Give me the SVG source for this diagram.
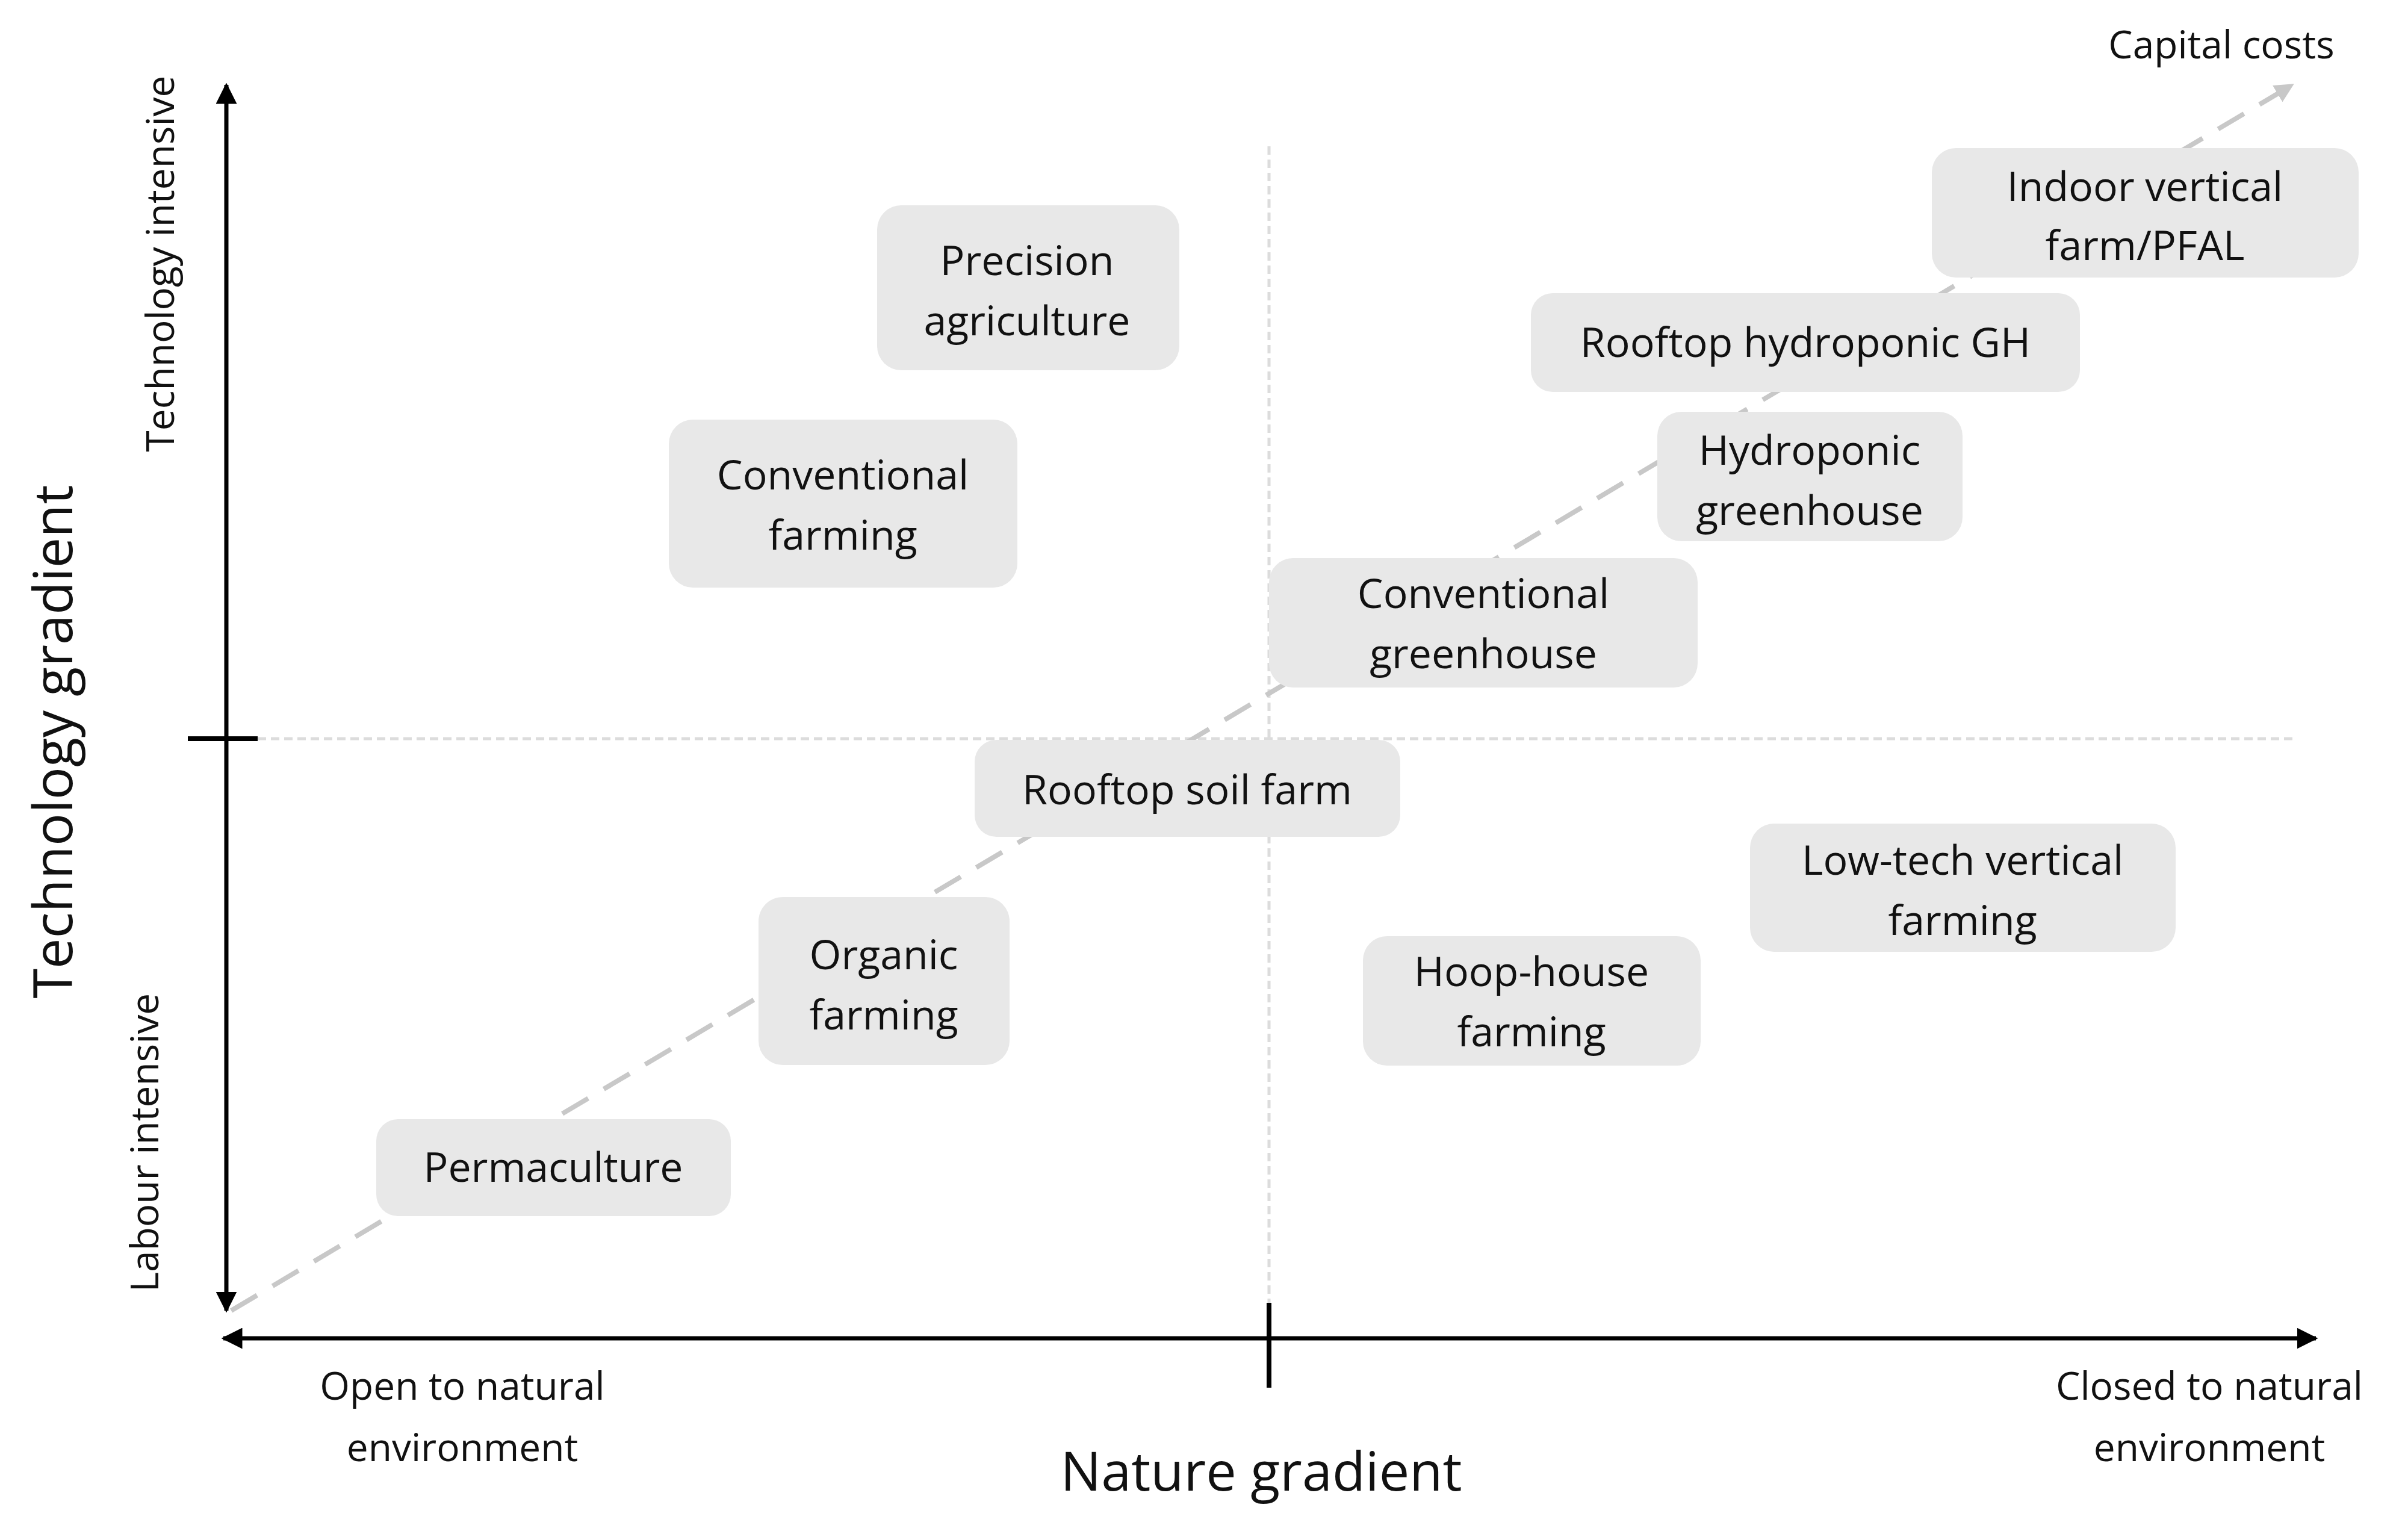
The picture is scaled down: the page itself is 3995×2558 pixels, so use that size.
<svg xmlns="http://www.w3.org/2000/svg" width="3995" height="2558" viewBox="0 0 3995 2558">
<style>
.b{fill:#e8e8e8}
.t{font-family:"Open Sans","Liberation Sans",sans-serif;font-size:68px;fill:#111;text-anchor:middle;dominant-baseline:central}
.a{font-family:"Open Sans","Liberation Sans",sans-serif;font-size:64px;fill:#111;text-anchor:middle;dominant-baseline:central}
.g{font-family:"Open Sans","Liberation Sans",sans-serif;font-size:90px;fill:#111;text-anchor:middle;dominant-baseline:central}
.d{stroke:#dcdcdc;stroke-width:5;stroke-dasharray:14 8;fill:none}
</style>
<defs>
<marker id="ah" viewBox="0 0 10 10" refX="9" refY="5" markerWidth="5" markerHeight="5" orient="auto-start-reverse"><path d="M0,0L10,5L0,10z" fill="#000"/></marker>
<marker id="gh" viewBox="0 0 10 10" refX="9" refY="5" markerWidth="4" markerHeight="4" orient="auto"><path d="M0,0L10,5L0,10z" fill="#c8c8c8"/></marker>
</defs>
<rect width="3995" height="2558" fill="#fff"/>
<g id="connectors">
<line class="d" x1="2108" y1="243" x2="2108" y2="2164"/>
<line class="d" x1="428" y1="1227" x2="3816" y2="1227"/>
<line x1="384" y1="2177" x2="3808" y2="141" stroke="#c8c8c8" stroke-width="8" stroke-dasharray="50 30" marker-end="url(#gh)"/>
<line x1="376" y1="2177" x2="376" y2="141" stroke="#000" stroke-width="7" marker-start="url(#ah)" marker-end="url(#ah)"/>
<line x1="312" y1="1227" x2="428" y2="1227" stroke="#000" stroke-width="8"/>
<line x1="371" y1="2223" x2="3847" y2="2223" stroke="#000" stroke-width="7" marker-start="url(#ah)" marker-end="url(#ah)"/>
<line x1="2108" y1="2164" x2="2108" y2="2305" stroke="#000" stroke-width="8"/>
</g>
<g id="n1"><rect class="b" x="1457" y="341" width="502" height="274" rx="40"/><text class="t" x="1706" y="430">Precision</text><text class="t" x="1706" y="530">agriculture</text></g>
<g id="n2"><rect class="b" x="1111" y="697" width="579" height="279" rx="40"/><text class="t" x="1400" y="786">Conventional</text><text class="t" x="1400" y="886">farming</text></g>
<g id="n3"><rect class="b" x="3209" y="246" width="709" height="215" rx="40"/><text class="t" x="3563" y="307">Indoor vertical</text><text class="t" x="3563" y="405">farm/PFAL</text></g>
<g id="n4"><rect class="b" x="2543" y="487" width="912" height="164" rx="36"/><text class="t" x="2999" y="566">Rooftop hydroponic GH</text></g>
<g id="n5"><rect class="b" x="2753" y="684" width="507" height="215" rx="40"/><text class="t" x="3006" y="745">Hydroponic</text><text class="t" x="3006" y="845">greenhouse</text></g>
<g id="n6"><rect class="b" x="2108" y="927" width="712" height="215" rx="40"/><text class="t" x="2464" y="983">Conventional</text><text class="t" x="2464" y="1083">greenhouse</text></g>
<g id="n7"><rect class="b" x="1619" y="1229" width="707" height="161" rx="36"/><text class="t" x="1972" y="1309">Rooftop soil farm</text></g>
<g id="n8"><rect class="b" x="2907" y="1368" width="707" height="213" rx="40"/><text class="t" x="3260" y="1426">Low-tech vertical</text><text class="t" x="3260" y="1526">farming</text></g>
<g id="n9"><rect class="b" x="1260" y="1490" width="417" height="279" rx="40"/><text class="t" x="1468" y="1583">Organic</text><text class="t" x="1468" y="1683">farming</text></g>
<g id="n10"><rect class="b" x="2264" y="1555" width="561" height="215" rx="40"/><text class="t" x="2544" y="1611">Hoop-house</text><text class="t" x="2544" y="1711">farming</text></g>
<g id="n11"><rect class="b" x="625" y="1859" width="589" height="161" rx="36"/><text class="t" x="919" y="1936">Permaculture</text></g>
<g id="labels">
<text class="a" transform="translate(264,438) rotate(-90)">Technology intensive</text>
<text class="a" transform="translate(238,1898) rotate(-90)">Labour intensive</text>
<text class="g" transform="translate(85,1232) rotate(-90)">Technology gradient</text>
<text class="g" x="2095" y="2441">Nature gradient</text>
<text class="a" x="768" y="2300">Open to natural</text>
<text class="a" x="768" y="2402">environment</text>
<text class="a" x="3670" y="2300">Closed to natural</text>
<text class="a" x="3670" y="2402">environment</text>
<text class="a" x="3690" y="72">Capital costs</text>
</g>
</svg>
